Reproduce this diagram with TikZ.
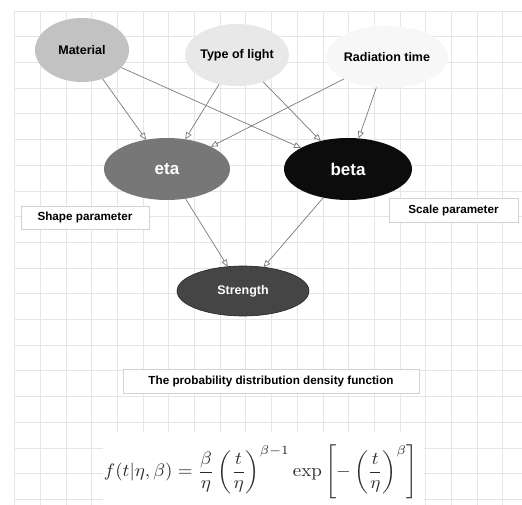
\documentclass[tikz,border=0pt]{standalone}
\usepackage[no-math]{fontspec}
\setmainfont{Liberation Sans}
\usepackage{graphicx}
\usetikzlibrary{shapes.geometric,arrows.meta}
\definecolor{gridgray}{HTML}{E6E6E6}
\definecolor{edgegray}{HTML}{7A7A7A}
\definecolor{boxgray}{HTML}{D2D2D2}
\definecolor{matfill}{HTML}{C2C2C2}
\definecolor{lightfill}{HTML}{E8E8E8}
\definecolor{radfill}{HTML}{F7F7F7}
\definecolor{etafill}{HTML}{777777}
\definecolor{betafill}{HTML}{0C0C0C}
\definecolor{strfill}{HTML}{454545}
\definecolor{formcol}{HTML}{2A2A2A}
\begin{document}
\begin{tikzpicture}[x=1pt,y=-1pt,
  ell/.style={ellipse, inner sep=0pt, outer sep=0pt, font=\fontsize{12.5}{14}\selectfont\bfseries},
  lbl/.style={draw=boxgray, fill=white, line width=0.8pt, inner sep=0pt, font=\fontsize{11.7}{13}\selectfont\bfseries},
  edge/.style={draw=edgegray, line width=0.7pt, -{Triangle[open, length=7pt, width=6pt, fill=white]}}]
\useasboundingbox (0,0) rectangle (522,505);
\fill[white] (0,0) rectangle (522,505);
% grid
\foreach \i in {0,...,19} {
  \draw[gridgray, line width=0.7pt] ({14.5+25.7*\i},11) -- ({14.5+25.7*\i},505);
  \draw[gridgray, line width=0.7pt] (14.5,{11+25.7*\i}) -- (522,{11+25.7*\i});
}
\fill[white] (103,432) rectangle (424,505);
% nodes
\node[ell, fill=matfill, minimum width=94pt, minimum height=64pt] (mat) at (82,50) {Material};
\node[ell, fill=lightfill, minimum width=94pt, minimum height=62pt] (tol) at (237,55) {Type of light};
\node[ell, fill=radfill, minimum width=96pt, minimum height=62pt] (rad) at (387,57) {Radiation time};
\node[ell, fill=etafill, text=white, minimum width=126pt, minimum height=62pt, font=\fontsize{17}{19}\selectfont\bfseries] (eta) at (167,169) {eta};
\node[ell, fill=betafill, text=white, minimum width=128pt, minimum height=62pt, font=\fontsize{17}{19}\selectfont\bfseries] (beta) at (348,169) {beta};
\node[ell, fill=strfill, draw=black!85, line width=0.6pt, text=white, minimum width=132pt, minimum height=50pt] (str) at (243,291) {Strength};
% edges
\draw[edge] (mat) -- (eta);
\draw[edge] (mat) -- (beta);
\draw[edge] (tol) -- (eta);
\draw[edge] (tol) -- (beta);
\draw[edge] (rad) -- (eta);
\draw[edge] (rad) -- (beta);
\draw[edge] (eta) -- (str);
\draw[edge] (beta) -- (str);
% labels
\node[lbl, minimum width=128pt, minimum height=23pt] (shape) at (85,217.5) {Shape parameter};
\node[lbl, minimum width=129pt, minimum height=24pt] (scale) at (453.5,210) {Scale parameter};
\node[lbl, minimum width=296pt, minimum height=24pt] (pdf) at (271,381) {The probability distribution density function};
\node[text=formcol, inner sep=0pt] (form) at (261,472) {\scalebox{1.9}[1.8]{$\displaystyle f(t|\eta,\beta)=\frac{\beta}{\eta}\left(\frac{t}{\eta}\right)^{\beta-1}\exp\left[-\left(\frac{t}{\eta}\right)^{\beta}\right]$}};
\end{tikzpicture}
\end{document}
